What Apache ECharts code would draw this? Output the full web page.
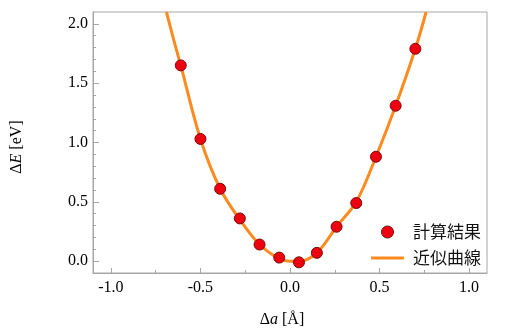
<!DOCTYPE html>
<html>
<head>
<meta charset="utf-8">
<script src="https://cdn.jsdelivr.net/npm/echarts@6/dist/echarts.min.js"></script>
<style>html,body{margin:0;padding:0;background:#fff}#c{width:512px;height:333px}</style>
</head>
<body>
<div id="c"></div>
<script>
// Calculated points (Δa [Å], ΔE [eV])
const pointDa = [-0.61, -0.50, -0.39, -0.28, -0.17, -0.06, 0.05, 0.15, 0.26, 0.37, 0.48, 0.59, 0.70];
const pointE  = [1.65, 1.03, 0.61, 0.36, 0.14, 0.03, -0.01, 0.07, 0.29, 0.49, 0.88, 1.31, 1.79];
// Fitted curve
const curveDa = [-0.69, -0.65, -0.61, -0.50, -0.39, -0.28, -0.17, -0.06, 0.00, 0.05, 0.15, 0.26, 0.37, 0.48, 0.59, 0.70, 0.76];
const curveE  = [2.10, 1.87, 1.65, 1.03, 0.61, 0.35, 0.14, 0.02, 0.00, 0.00, 0.07, 0.29, 0.50, 0.88, 1.31, 1.79, 2.10];
// Axis ticks
const xMajor = [-1.0, -0.5, 0.0, 0.5, 1.0];
const xMinor = [-0.75, -0.25, 0.25, 0.75];
const yMajor = [0.0, 0.5, 1.0, 1.5, 2.0];
const yMinor = [0.1, 0.2, 0.3, 0.4, 0.6, 0.7, 0.8, 0.9, 1.1, 1.2, 1.3, 1.4, 1.6, 1.7, 1.8, 1.9];
const seriesNames = ['計算結果', '近似曲線'];

const serif = 'Liberation Serif';
const frameColor = '#a6a6a6';
const orange = '#ff8a1f';
const fmt = v => v.toFixed(1);
const legendText = { fontFamily: 'Noto Sans CJK JP', fontSize: 17, color: '#111', lineHeight: 20, padding: [0, 0, 0, 4] };

const chart = echarts.init(document.getElementById('c'));
chart.setOption({
  animation: false,
  backgroundColor: '#fff',
  grid: { left: 93, right: 25, top: 12, bottom: 59, show: true, borderColor: frameColor, borderWidth: 1, backgroundColor: 'transparent' },
  legend: [{
    left: 381, top: 222, padding: 0,
    itemWidth: 33, itemHeight: 12, icon: 'circle',
    data: [seriesNames[0]],
    itemStyle: { borderWidth: 1 },
    textStyle: legendText
  }, {
    left: 371, top: 248, padding: 0,
    itemWidth: 33, itemHeight: 3, icon: 'rect',
    data: [seriesNames[1]],
    itemStyle: { color: orange },
    textStyle: legendText
  }],
  xAxis: [{
    type: 'value', min: -1.1, max: 1.1, position: 'bottom',
    axisLine: { onZero: false, lineStyle: { color: frameColor } },
    axisTick: { inside: true, length: 5, customValues: xMajor, lineStyle: { color: frameColor } },
    axisLabel: { customValues: xMajor, formatter: fmt, margin: 7, fontFamily: serif, fontSize: 16, color: '#000' },
    splitLine: { show: false },
    name: '{n|Δ}{i|a}{n| [Å]}', nameLocation: 'middle', nameGap: 39,
    nameTextStyle: { padding: [0, 16, 0, 0], rich: { n: { fontFamily: serif, fontSize: 16, color: '#000' }, i: { fontFamily: serif, fontStyle: 'italic', fontSize: 16, color: '#000' } } }
  }, {
    type: 'value', min: -1.1, max: 1.1, position: 'bottom', gridIndex: 0,
    axisLine: { show: false, onZero: false },
    axisTick: { inside: true, length: 3, customValues: xMinor, lineStyle: { color: frameColor } },
    axisLabel: { show: false }, splitLine: { show: false }
  }],
  yAxis: [{
    type: 'value', min: -0.1, max: 2.1, position: 'left',
    axisLine: { show: true, onZero: false, lineStyle: { color: frameColor } },
    axisTick: { show: true, inside: true, length: 6, customValues: yMajor, lineStyle: { color: frameColor } },
    axisLabel: { customValues: yMajor, formatter: fmt, margin: 5, fontFamily: serif, fontSize: 16, color: '#000' },
    splitLine: { show: false },
    name: '{n|Δ}{i|E}{n| [eV]}', nameLocation: 'middle', nameGap: 68,
    nameTextStyle: { padding: [0, 9, 0, 0], rich: { n: { fontFamily: serif, fontSize: 16, color: '#000' }, i: { fontFamily: serif, fontStyle: 'italic', fontSize: 16, color: '#000' } } }
  }, {
    type: 'value', min: -0.1, max: 2.1, position: 'left', gridIndex: 0,
    axisLine: { show: false, onZero: false },
    axisTick: { show: true, inside: true, length: 3, customValues: yMinor, lineStyle: { color: frameColor } },
    axisLabel: { show: false }, splitLine: { show: false }
  }],
  series: [{
    name: seriesNames[1], type: 'line', xAxisIndex: 0, yAxisIndex: 0,
    data: curveDa.map((x, i) => [x, curveE[i]]),
    smooth: 0.35, symbol: 'none', clip: true,
    lineStyle: { color: orange, width: 3 }, itemStyle: { color: orange }, z: 2
  }, {
    name: seriesNames[0], type: 'scatter', xAxisIndex: 0, yAxisIndex: 0,
    data: pointDa.map((x, i) => [x, pointE[i]]),
    symbol: 'circle', symbolSize: 11,
    itemStyle: { color: '#ee0010', borderColor: '#7a0a0a', borderWidth: 1, opacity: 1 }, z: 3
  }]
});
</script>
</body>
</html>
